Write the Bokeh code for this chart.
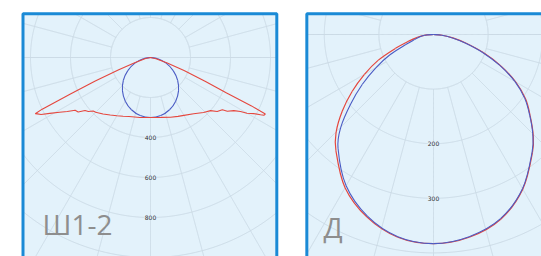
import numpy as np
from bokeh.plotting import figure
from bokeh.layouts import row
from bokeh.models import Range1d
from bokeh.core.properties import value
from bokeh.embed import file_html
from bokeh.resources import INLINE

# ---------------- data: panel "Ш1-2" (cd) ----------------
sh_title = "Ш1-2"
sh_ring_labels = ["400", "600", "800"]
sh_ring_values = [400, 600, 800]
sh_ring_step = 200

sh_red_left_ang = [0, 10, 15, 20, 25, 30, 35, 40, 43, 45, 47, 49, 51, 53, 55, 57, 59, 61, 62.5, 63.5, 64, 64.5, 65.5, 67, 69, 72, 78, 90]
sh_red_left_val = [300, 305, 308, 314, 324, 336, 351, 369, 379, 387, 392, 412, 421, 453, 460, 496, 531, 576, 617, 632, 641, 600, 440, 300, 170, 80, 25, 0]

sh_red_right_ang = [0, 10, 18.5, 25, 30, 37.5, 44, 48.5, 51, 54, 55, 57.5, 59, 60, 61.5, 62.5, 63, 63.8, 64.4, 65, 66.5, 68.7, 72, 78, 90]
sh_red_right_val = [300, 304, 315, 325, 334, 355, 382, 401, 429, 444, 469, 494, 525, 557, 588, 620, 636, 640, 560, 420, 300, 180, 85, 28, 0]

sh_blue_ang = [0, 10, 20, 30, 40, 50, 60, 70, 80, 90]
sh_blue_val = [300, 295, 278, 252, 218, 177, 131, 83, 37, 0]

# ---------------- data: panel "Д" (cd) ----------------
d_title = "Д"
d_ring_labels = ["200", "300"]
d_ring_values = [200, 300]
d_ring_step = 100

d_ang = [0, 10, 20, 30, 40, 45, 50, 55, 60, 65, 70, 75, 80, 85, 90]
d_red_left = [383, 377, 356, 324, 278, 252, 218, 182, 146, 112, 74, 47, 30, 17, 0]
d_blue_left = [383, 376, 354, 320, 272, 240, 198, 159, 122, 88, 54, 36, 26, 16, 0]
d_red_right = [383, 377, 360, 327, 282, 258, 231, 206, 174, 136, 97, 62, 36, 16, 0]
d_blue_right = [383, 376, 359, 326, 281, 257, 230, 204, 172, 134, 95, 60, 34, 15, 0]

# ---------------- styles ----------------
PANEL_FILL = "#e3f2fb"
BORDER = "#1a8ad6"
GRID = "#cbdae5"
RED = "#e5473e"
BLUE = "#4b5cc4"
TITLE_COLOR = "#8e8e8e"
H = 256


def polar_xy(ang_l, val_l, ang_r, val_r):
    al = np.radians(np.asarray(ang_l, float))
    ar = np.radians(np.asarray(ang_r, float))
    vl = np.asarray(val_l, float)
    vr = np.asarray(val_r, float)
    xl, yl = -vl * np.sin(al), -vl * np.cos(al)
    xr, yr = vr * np.sin(ar), -vr * np.cos(ar)
    if ang_l[0] == 0 and ang_r[0] == 0:
        xr, yr = xr[1:], yr[1:]
    return np.concatenate([xl[::-1], xr]), np.concatenate([yl[::-1], yr])


def smooth_curve(p, x, y, **kw):
    # Catmull-Rom rendered through Bokeh's bezier glyph
    P = np.column_stack([x, y])
    Pm = np.vstack([P[:1], P[:-1]])
    Pp = np.vstack([P[1:], P[-1:]])
    Ppp = np.vstack([P[2:], P[-1:], P[-1:]])
    a, b = P[:-1], Pp[:-1]
    c1 = a + (Pp[:-1] - Pm[:-1]) / 6.0
    c2 = b - (Ppp[:-1] - a) / 6.0
    p.bezier(x0=a[:, 0], y0=a[:, 1], x1=b[:, 0], y1=b[:, 1],
             cx0=c1[:, 0], cy0=c1[:, 1], cx1=c2[:, 0], cy1=c2[:, 1], **kw)


def clip(x, y, rect):
    x0, x1, y0, y1 = rect
    m = (x < x0) | (x > x1) | (y < y0) | (y > y1)
    x = x.copy(); y = y.copy()
    x[m] = np.nan; y[m] = np.nan
    return list(x), list(y)


def make_panel(width, upp, cx_px, cy_px, rect, step, rmax):
    p = figure(width=width, height=H, output_backend="svg", toolbar_location=None,
               min_border=0, x_axis_type=None, y_axis_type=None)
    p.x_range = Range1d(-cx_px * upp, (width - cx_px) * upp)
    p.y_range = Range1d(-(H - cy_px) * upp, cy_px * upp)
    p.grid.visible = False
    p.outline_line_color = None
    p.background_fill_color = "white"
    p.border_fill_color = "white"
    x0, x1, y0, y1 = rect
    p.quad(left=[x0], right=[x1], bottom=[y0], top=[y1], fill_color=PANEL_FILL, line_color=None)
    xs, ys = [], []
    t = np.linspace(0, 2 * np.pi, 1441)
    for r in np.arange(step, rmax + 1, step):
        gx, gy = clip(r * np.cos(t), r * np.sin(t), rect)
        xs.append(gx); ys.append(gy)
    rr = np.linspace(step, rmax, 400)
    for a in np.arange(0, 360, 15):
        ar = np.radians(a)
        gx, gy = clip(rr * np.cos(ar), rr * np.sin(ar), rect)
        xs.append(gx); ys.append(gy)
    hx = np.linspace(x0, x1, 400)
    gx, gy = clip(hx, np.zeros_like(hx), rect)
    xs.append(gx); ys.append(gy)
    p.multi_line(xs, ys, line_color=GRID, line_width=1)
    return p


# ---------- left panel ----------
upp_l = 5.0
cxl, cyl = 150, 57
rect_l = (-637.5, 631.5, -1300, 218.5)
pl = make_panel(293, upp_l, cxl, cyl, rect_l, sh_ring_step, 1400)
for lab, v in zip(sh_ring_labels, sh_ring_values):
    pl.text(x=[0], y=[-v], text=[lab], text_align="center", text_baseline="middle",
            text_font_size="6px", text_color="#303030", text_font=value("DejaVu Sans"),
            background_fill_color=PANEL_FILL)
rx, ry = polar_xy(sh_red_left_ang, sh_red_left_val, sh_red_right_ang, sh_red_right_val)
bx, by = polar_xy(sh_blue_ang, sh_blue_val, sh_blue_ang, sh_blue_val)
smooth_curve(pl, bx, by, line_color=BLUE, line_width=1.1)
pl.line(rx, ry, line_color=RED, line_width=1.1)
pl.text(x=[-540], y=[-(223 - cyl) * upp_l], text=[sh_title], text_align="left", text_baseline="middle",
        text_font_size="28px", text_color=TITLE_COLOR, text_font=value("Open Sans"))
pl.quad(left=[rect_l[0]], right=[rect_l[1]], bottom=[rect_l[2]], top=[rect_l[3]],
        fill_color=None, line_color=BORDER, line_width=3)

# ---------- right panel ----------
upp_r = 1.0 / 0.546
cxr, cyr = 140, 34
rect_r = (-232.0, 400.0, -600.0, 37.9)
pr = make_panel(248, upp_r, cxr, cyr, rect_r, d_ring_step, 700)
for lab, v in zip(d_ring_labels, d_ring_values):
    pr.text(x=[0], y=[-v], text=[lab], text_align="center", text_baseline="middle",
            text_font_size="6px", text_color="#303030", text_font=value("DejaVu Sans"),
            background_fill_color=PANEL_FILL)
dbx, dby = polar_xy(d_ang, d_blue_left, d_ang, d_blue_right)
drx, dry = polar_xy(d_ang, d_red_left, d_ang, d_red_right)
smooth_curve(pr, drx, dry, line_color=RED, line_width=1.2)
smooth_curve(pr, dbx, dby, line_color=BLUE, line_width=1.1)
pr.text(x=[-201.5], y=[-(226 - cyr) * upp_r], text=[d_title], text_align="left", text_baseline="middle",
        text_font_size="28px", text_color=TITLE_COLOR, text_font=value("Open Sans"))
pr.quad(left=[rect_r[0]], right=[rect_r[1]], bottom=[rect_r[2]], top=[rect_r[3]],
        fill_color=None, line_color=BORDER, line_width=3)

layout = row(pl, pr)
open("out.html", "w").write(file_html(layout, INLINE))
